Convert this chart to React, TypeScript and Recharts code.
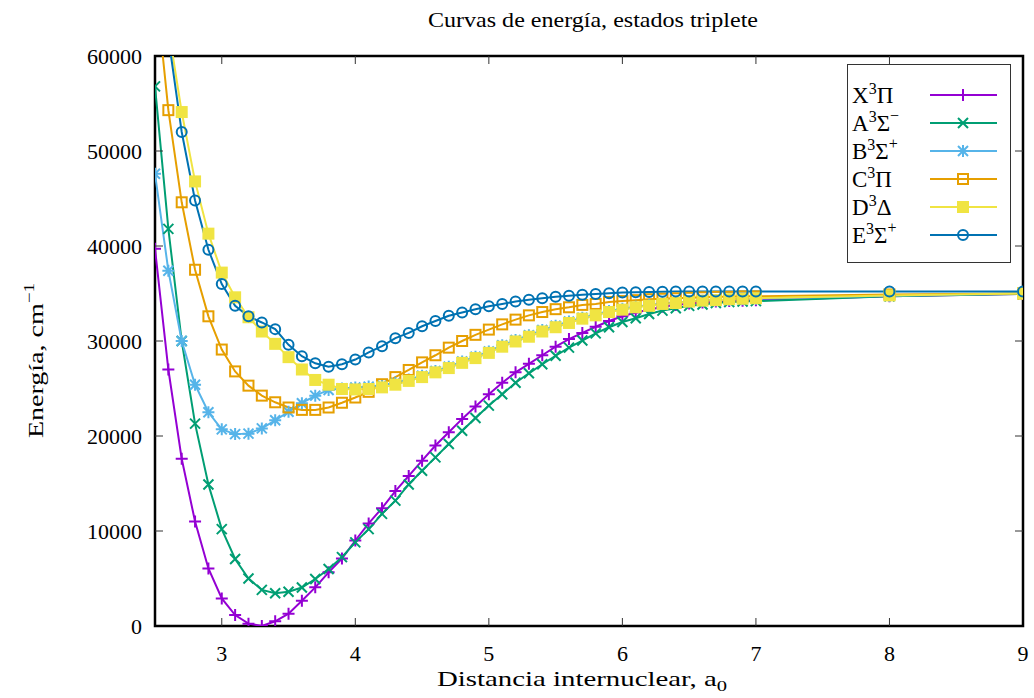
import React from 'react'
import { LineChart, Line, XAxis, YAxis, ReferenceArea } from 'recharts'

// internuclear distance, a0
const distances = [
  2.5, 2.6, 2.7, 2.8, 2.9, 3.0, 3.1, 3.2, 3.3, 3.4, 3.5, 3.6, 3.7, 3.8, 3.9, 4.0,
  4.1, 4.2, 4.3, 4.4, 4.5, 4.6, 4.7, 4.8, 4.9, 5.0, 5.1, 5.2, 5.3, 5.4, 5.5, 5.6,
  5.7, 5.8, 5.9, 6.0, 6.1, 6.2, 6.3, 6.4, 6.5, 6.6, 6.7, 6.8, 6.9, 7.0, 8, 9,
]

// energies, cm^-1
const xPi = [
  39700, 27000, 17600, 11000, 6050, 2900, 1150, 250, 0, 500, 1300, 2650, 4070, 5650, 7100, 9000,
  10800, 12400, 14200, 15800, 17400, 19000, 20400, 21800, 23100, 24400, 25600, 26700, 27600, 28500, 29400, 30200,
  30850, 31500, 32100, 32600, 33000, 33300, 33600, 33800, 33950, 34050, 34150, 34200, 34250, 34300, 34700, 34950,
]
const aSigmaMinus = [
  56800, 41800, 30000, 21300, 14900, 10200, 7050, 5000, 3800, 3450, 3600, 4050, 4950, 6000, 7250, 8800,
  10200, 11800, 13200, 14900, 16350, 17750, 19150, 20550, 21900, 23200, 24400, 25600, 26600, 27550, 28450, 29300,
  30050, 30800, 31450, 32000, 32400, 32850, 33200, 33450, 33700, 33850, 34000, 34100, 34150, 34200, 34700, 34950,
]
const bSigmaPlus = [
  47600, 37400, 30000, 25400, 22500, 20700, 20200, 20250, 20800, 21650, 22550, 23450, 24250, 24850, 25000, 25100,
  25200, 25350, 25600, 25950, 26350, 26850, 27300, 27850, 28350, 28900, 29550, 30100, 30600, 31150, 31600, 32050,
  32450, 32800, 33150, 33400, 33600, 33800, 33950, 34050, 34150, 34250, 34300, 34350, 34400, 34450, 34750, 35000,
]
const cPi = [
  68000, 54300, 44600, 37500, 32600, 29100, 26800, 25300, 24250, 23550, 23000, 22750, 22750, 23000, 23500, 24050,
  24650, 25450, 26200, 26950, 27750, 28500, 29300, 30000, 30650, 31200, 31750, 32250, 32700, 33050, 33350, 33550,
  33800, 33900, 34100, 34200, 34300, 34400, 34450, 34500, 34550, 34600, 34650, 34650, 34700, 34700, 34900, 35000,
]
const dDelta = [
  76000, 63000, 54100, 46800, 41300, 37200, 34600, 32500, 31000, 29700, 28300, 27000, 25900, 25400, 24950, 24900,
  24950, 25120, 25400, 25800, 26200, 26700, 27150, 27700, 28200, 28750, 29400, 29950, 30450, 31000, 31450, 31900,
  32350, 32700, 33050, 33300, 33550, 33700, 33900, 34000, 34150, 34250, 34300, 34400, 34450, 34500, 34800, 35000,
]
const eSigmaPlus = [
  75000, 62000, 52000, 44800, 39600, 36000, 33700, 32600, 31950, 31250, 29600, 28400, 27650, 27300, 27550, 28050,
  28800, 29450, 30300, 30850, 31550, 32100, 32650, 33000, 33350, 33650, 33900, 34150, 34350, 34500, 34650, 34770,
  34880, 34950, 35020, 35100, 35130, 35150, 35180, 35200, 35200, 35200, 35200, 35200, 35200, 35200, 35200, 35200,
]

const xTicks = [3, 4, 5, 6, 7, 8, 9]
const yTicks = [0, 10000, 20000, 30000, 40000, 50000, 60000]

type MarkerKind = 'plus' | 'cross' | 'star' | 'box' | 'boxFilled' | 'circle'

const series: {
  key: string
  values: number[]
  color: string
  marker: MarkerKind
  letter: string
  term: string
  sign?: string
}[] = [
  { key: 'X', values: xPi, color: '#9400d3', marker: 'plus', letter: 'X', term: 'Π' },
  { key: 'A', values: aSigmaMinus, color: '#009e73', marker: 'cross', letter: 'A', term: 'Σ', sign: '−' },
  { key: 'B', values: bSigmaPlus, color: '#56b4e9', marker: 'star', letter: 'B', term: 'Σ', sign: '+' },
  { key: 'C', values: cPi, color: '#e69f00', marker: 'box', letter: 'C', term: 'Π' },
  { key: 'D', values: dDelta, color: '#f0e442', marker: 'boxFilled', letter: 'D', term: 'Δ' },
  { key: 'E', values: eSigmaPlus, color: '#0072b2', marker: 'circle', letter: 'E', term: 'Σ', sign: '+' },
]

const data = distances.map((x, i) => {
  const row: { [k: string]: number } = { x }
  series.forEach((s) => (row[s.key] = s.values[i]))
  return row
})

const W = 1034
const H = 698
const MARGIN = { top: 56, right: 11, bottom: 22, left: 95 }
const Y_AXIS_W = 60
const X_AXIS_H = 50
const PLOT_L = MARGIN.left + Y_AXIS_W
const PLOT_R = W - MARGIN.right
const PLOT_T = MARGIN.top
const PLOT_B = H - MARGIN.bottom - X_AXIS_H
const TICK_LEN = 8
const FONT = "'Liberation Serif', 'Times New Roman', serif"

function Marker({ kind, cx, cy, color }: { kind: MarkerKind; cx: number; cy: number; color: string }) {
  const r = 5
  const common = { stroke: color, strokeWidth: 2, fill: 'none' }
  switch (kind) {
    case 'plus':
      return <path d={`M${cx - r - 1},${cy}h${2 * r + 2}M${cx},${cy - r - 1}v${2 * r + 2}`} {...common} />
    case 'cross':
      return <path d={`M${cx - r},${cy - r}L${cx + r},${cy + r}M${cx - r},${cy + r}L${cx + r},${cy - r}`} {...common} />
    case 'star':
      return (
        <path
          d={`M${cx - r - 1},${cy}h${2 * r + 2}M${cx},${cy - r - 1}v${2 * r + 2}M${cx - r},${cy - r}L${cx + r},${cy + r}M${cx - r},${cy + r}L${cx + r},${cy - r}`}
          {...common}
        />
      )
    case 'box':
      return <rect x={cx - r} y={cy - r} width={2 * r} height={2 * r} {...common} />
    case 'boxFilled':
      return <rect x={cx - r - 1} y={cy - r - 1} width={2 * r + 2} height={2 * r + 2} fill={color} stroke="none" />
    case 'circle':
      return <circle cx={cx} cy={cy} r={r} {...common} />
  }
}

const XTick = (props: any) => {
  const { x, y, payload } = props
  return (
    <g>
      {payload.value < 9 && (
        <>
          <line x1={x} x2={x} y1={PLOT_B} y2={PLOT_B - TICK_LEN} stroke="#333" />
          <line x1={x} x2={x} y1={PLOT_T} y2={PLOT_T + TICK_LEN} stroke="#333" />
        </>
      )}
      <text x={x} y={y} textAnchor="middle" fontFamily={FONT} fontSize={22} fill="#000">
        {payload.value}
      </text>
    </g>
  )
}

const YTick = (props: any) => {
  const { x, y, payload } = props
  const inner = payload.value > 0 && payload.value < 60000
  return (
    <g>
      {inner && (
        <>
          <line x1={PLOT_L} x2={PLOT_L + TICK_LEN} y1={y} y2={y} stroke="#333" />
          <line x1={PLOT_R} x2={PLOT_R - TICK_LEN} y1={y} y2={y} stroke="#333" />
        </>
      )}
      <text x={x} y={y} dy="0.35em" textAnchor="end" fontFamily={FONT} fontSize={22} fill="#000">
        {payload.value}
      </text>
    </g>
  )
}

function Overlay() {
  return (
    <svg width={W} height={H} style={{ position: 'absolute', left: 0, top: 0, pointerEvents: 'none' }}>
      <text x={428} y={27} fontFamily={FONT} fontSize={21} textLength={330} lengthAdjust="spacingAndGlyphs">
        Curvas de energía, estados triplete
      </text>
      <text x={437} y={686} fontFamily={FONT} fontSize={21} textLength={290} lengthAdjust="spacingAndGlyphs">
        Distancia internuclear, a<tspan dy={5} fontSize={15}>0</tspan>
      </text>
      <text
        transform="rotate(-90)"
        x={-438}
        y={43}
        fontFamily={FONT}
        fontSize={22}
        textLength={155}
        lengthAdjust="spacingAndGlyphs"
      >
        Energía, cm<tspan dy={-9} fontSize={15}>−1</tspan>
      </text>
      <rect x={847.5} y={64.5} width={163} height={198} fill="#fff" stroke="#333" />
      {series.map((s, i) => {
        const cy = 95 + i * 28
        return (
          <g key={s.key}>
            <text x={852} y={cy + 8} fontFamily={FONT} fontSize={23}>
              {s.letter}
              <tspan dy={-9} fontSize={16}>3</tspan>
              <tspan dy={9}>{s.term}</tspan>
              {s.sign && (
                <tspan dy={-10} fontSize={16}>
                  {s.sign}
                </tspan>
              )}
            </text>
            <line x1={930} x2={997} y1={cy} y2={cy} stroke={s.color} strokeWidth={2} />
            <Marker kind={s.marker} cx={963} cy={cy} color={s.color} />
          </g>
        )
      })}
    </svg>
  )
}

export default function App() {
  return (
    <div style={{ position: 'relative', width: W, height: H, background: '#fff' }}>
      <style>{'body{margin:0}'}</style>
      <LineChart width={W} height={H} data={data} margin={MARGIN}>
        <XAxis
          type="number"
          dataKey="x"
          domain={[2.5, 9]}
          ticks={xTicks}
          allowDataOverflow
          height={X_AXIS_H}
          axisLine={false}
          tickLine={false}
          tickSize={0}
          tickMargin={35}
          tick={XTick}
        />
        <YAxis
          type="number"
          domain={[0, 60000]}
          ticks={yTicks}
          allowDataOverflow
          width={Y_AXIS_W}
          axisLine={false}
          tickLine={false}
          tickSize={0}
          tickMargin={13}
          tick={YTick}
        />
        {series.map((s) => (
          <Line
            key={s.key}
            dataKey={s.key}
            type="linear"
            stroke={s.color}
            strokeWidth={2}
            isAnimationActive={false}
            dot={(p: any) => (
              <Marker key={`${s.key}-${p.index}`} kind={s.marker} cx={p.cx} cy={p.cy} color={s.color} />
            )}
            activeDot={false}
          />
        ))}
        <ReferenceArea x1={2.5} x2={9} y1={0} y2={60000} fill="none" stroke="#000" strokeWidth={2.5} />
      </LineChart>
      <Overlay />
    </div>
  )
}
